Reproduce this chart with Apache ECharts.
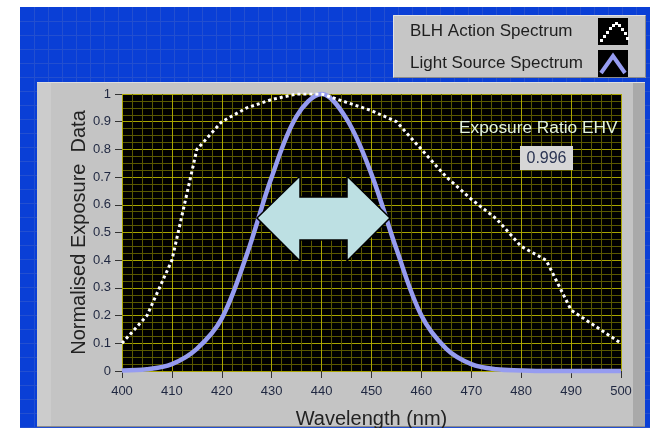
<!DOCTYPE html>
<html><head><meta charset="utf-8">
<script src="https://cdn.jsdelivr.net/npm/echarts@6/dist/echarts.min.js"></script>
<style>html,body{margin:0;padding:0;background:#fff}#c{width:650px;height:428px}</style>
</head><body><div id="c"></div>
<script>
const wavelengths = [400,405,410,415,420,425,430,435,440,445,450,455,460,465,470,475,480,485,490,495,500];
const blhAction   = [0.10,0.20,0.40,0.80,0.90,0.95,0.98,1.00,1.00,0.97,0.94,0.90,0.80,0.70,0.62,0.55,0.45,0.40,0.22,0.16,0.10];
const lightSource = [0.002,0.006,0.025,0.08,0.19,0.42,0.70,0.92,1.00,0.91,0.71,0.44,0.20,0.08,0.025,0.006,0.002,0,0,0,0];
const seriesNames = ['BLH Action Spectrum','Light Source Spectrum'];
const xTitle = 'Wavelength (nm)';
const yTitle = 'Normalised Exposure  Data';
const ratioLabel = 'Exposure Ratio EHV';
const ratioValue = '0.996';

const FONT = 'Liberation Sans, Arial, sans-serif';
const chart = echarts.init(document.getElementById('c'), null, {renderer:'canvas'});

const bg = [];
bg.push({type:'rect', z:-10, shape:{x:20,y:7,width:630,height:421}, style:{fill:'#0a3fd6'}});
for (let x = 34; x < 650; x += 14) bg.push({type:'line', z:-9, shape:{x1:x+0.5,y1:7,x2:x+0.5,y2:428}, style:{stroke:'#234fd0',lineWidth:1}});
for (let y = 21; y < 428; y += 14) bg.push({type:'line', z:-9, shape:{x1:20,y1:y+0.5,x2:650,y2:y+0.5}, style:{stroke:'#234fd0',lineWidth:1}});
bg.push({type:'rect', z:-8, shape:{x:393,y:15,width:253,height:63}, style:{fill:'#c6c6c6'}});
bg.push({type:'polyline', z:-7, shape:{points:[[393.5,77.5],[393.5,15.5],[645.5,15.5]]}, style:{stroke:'#e2e2e2',lineWidth:1,fill:null}});
bg.push({type:'polyline', z:-7, shape:{points:[[393.5,77.5],[645.5,77.5],[645.5,15.5]]}, style:{stroke:'#8c8c8c',lineWidth:1,fill:null}});
bg.push({type:'rect', z:-7, shape:{x:598,y:18,width:30,height:27}, style:{fill:'#000'}});
bg.push({type:'rect', z:-7, shape:{x:598,y:50,width:30,height:27}, style:{fill:'#000'}});
bg.push({type:'rect', z:-8, shape:{x:37,y:82,width:608,height:345}, style:{fill:'#c4c4c4'}});
bg.push({type:'rect', z:-7, shape:{x:37,y:82,width:14,height:345}, style:{fill:'#cccccc'}});
bg.push({type:'rect', z:-7, shape:{x:633,y:82,width:12,height:345}, style:{fill:'#a9a9a9'}});
bg.push({type:'line', z:-6, shape:{x1:37,y1:82.5,x2:645,y2:82.5}, style:{stroke:'#dedede',lineWidth:1}});
bg.push({type:'line', z:-6, shape:{x1:37,y1:426.5,x2:645,y2:426.5}, style:{stroke:'#8a8a8a',lineWidth:1}});

const ov = [];
const dots = [[600,39],[603,35],[606,31],[609,27],[612,24],[615,22],[618,24],[621,28],[624,32],[626,37]];
dots.forEach(p => ov.push({type:'rect', z:50, shape:{x:p[0],y:p[1],width:3,height:3}, style:{fill:'#fff'}}));
ov.push({type:'polyline', z:50, shape:{points:[[601,73],[613,56],[625,73]]}, style:{stroke:'#969cf0',lineWidth:4,fill:null}});
ov.push({type:'polygon', z:100, shape:{points:[[257,218],[300,176],[300,197],[347,197],[347,176],[390,218],[347,261],[347,240],[300,240],[300,261]]},
  style:{fill:'#bde0e3', stroke:'#000', lineWidth:1.5}});
ov.push({type:'text', z:100, style:{text:ratioLabel, x:459, y:128, fill:'#e4f3da', font:'17.3px '+FONT, textVerticalAlign:'middle', textAlign:'left'}});
ov.push({type:'rect', z:100, shape:{x:520,y:146,width:53,height:24}, style:{fill:'#d6d6d6'}});
ov.push({type:'text', z:101, style:{text:ratioValue, x:546.5, y:158.5, fill:'#2a3452', font:'16px '+FONT, textVerticalAlign:'middle', textAlign:'center'}});

const toPairs = arr => wavelengths.map((w,i)=>[w, arr[i]]);

chart.setOption({
  animation:false,
  backgroundColor:'#fff',
  graphic: bg.concat(ov),
  legend: {
    orient:'vertical', right:22, top:18, padding:0, itemGap:5, itemWidth:30, itemHeight:27,
    align:'right', icon:'rect', selectedMode:false,
    itemStyle:{color:'rgba(0,0,0,0)', borderWidth:0, opacity:0},
    data: seriesNames,
    formatter: n => '{a|' + n + '}',
    textStyle: { fontSize:17, fontFamily:FONT, color:'#1e1e1e',
      rich: { a: { width:183, align:'left', fontSize:17, fontFamily:FONT, color:'#1e1e1e' } } }
  },
  grid: { left:122, top:94, width:499, height:277, show:true, backgroundColor:'#000', borderWidth:0,
          containLabel:false, outerBoundsMode:'none' },
  xAxis: {
    type:'value', min:400, max:500, interval:10,
    axisLine:{show:false},
    axisTick:{show:true, length:7, lineStyle:{color:'#333'}},
    axisLabel:{margin:14, fontSize:13, color:'#1f2740', fontFamily:FONT},
    splitLine:{show:true, lineStyle:{color:'#a8a400', width:1}},
    minorTick:{show:false, splitNumber:5},
    minorSplitLine:{show:true, lineStyle:{color:'#5a5800', width:1}},
    name:xTitle, nameLocation:'middle', nameGap:38, nameMoveOverlap:false,
    nameTextStyle:{fontSize:20, fontFamily:FONT, color:'#222'}
  },
  yAxis: {
    type:'value', min:0, max:1, interval:0.1,
    axisLine:{show:false},
    axisTick:{show:true, length:7, lineStyle:{color:'#333'}},
    axisLabel:{margin:11, fontSize:13, color:'#1f2740', fontFamily:FONT},
    splitLine:{show:true, lineStyle:{color:'#a8a400', width:1}},
    minorTick:{show:false, splitNumber:4},
    minorSplitLine:{show:true, lineStyle:{color:'#5a5800', width:1}},
    name:yTitle, nameLocation:'middle', nameGap:33, nameMoveOverlap:false,
    nameTextStyle:{fontSize:20, fontFamily:FONT, color:'#222'}
  },
  series: [
    { name:seriesNames[1], type:'line', data:toPairs(lightSource), symbol:'none', smooth:0.35, clip:false,
      lineStyle:{color:'#969cf0', width:4.5}, itemStyle:{color:'#969cf0'}, z:3, silent:true },
    { name:seriesNames[0], type:'line', data:toPairs(blhAction), symbol:'none', smooth:false,
      lineStyle:{color:'#ffffff', width:3, type:[3,3], cap:'butt'}, itemStyle:{color:'#ffffff'}, z:4, silent:true }
  ]
});
</script>
</body></html>
